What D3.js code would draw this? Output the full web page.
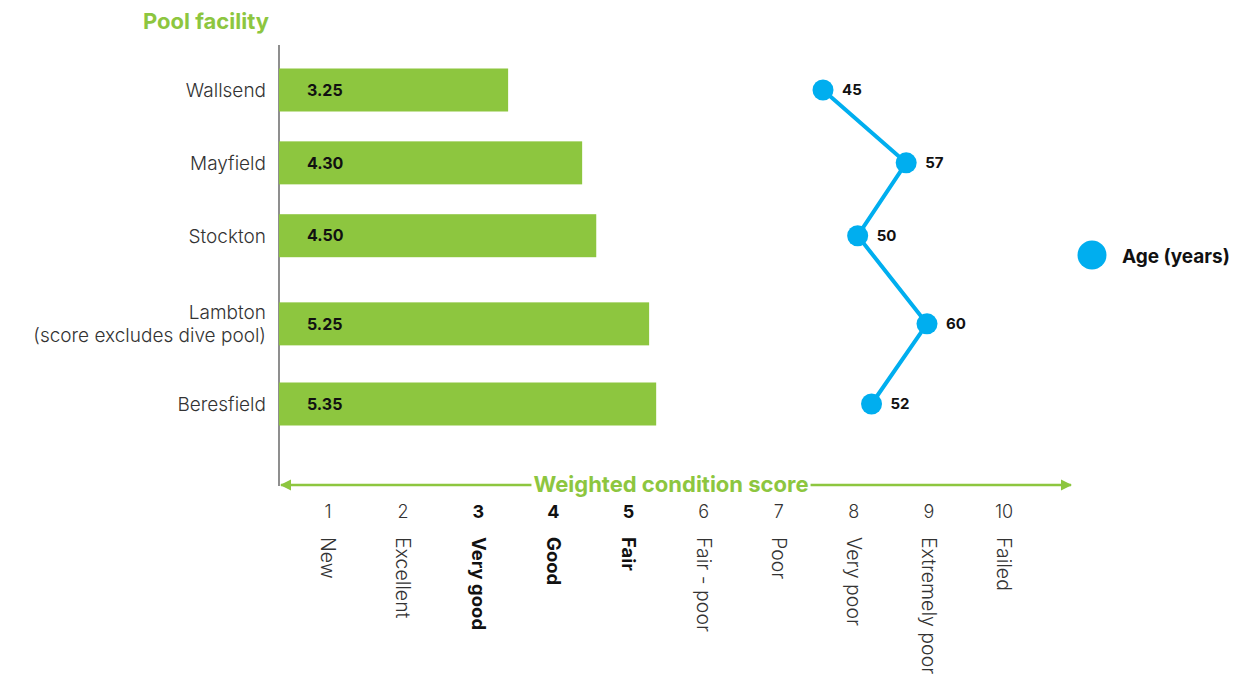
<!DOCTYPE html>
<html>
<head>
<meta charset="utf-8">
<script src="https://cdn.jsdelivr.net/npm/d3@7"></script>
<style>
  body { margin: 0; background: #fff; }
  text { font-family: "Inter", "Lato", sans-serif; }
</style>
</head>
<body>
<div id="chart"></div>
<script>
"use strict";

// pools, top to bottom
const pools = ["Wallsend", "Mayfield", "Stockton", "Lambton", "Beresfield"];
const poolLabels = [["Wallsend"], ["Mayfield"], ["Stockton"], ["Lambton", "(score excludes dive pool)"], ["Beresfield"]];
const scores = [3.25, 4.30, 4.50, 5.25, 5.35];
const ages = [45, 57, 50, 60, 52];

// condition scale along the bottom
const scoreTicks = [1, 2, 3, 4, 5, 6, 7, 8, 9, 10];
const scoreNames = ["New", "Excellent", "Very good", "Good", "Fair", "Fair - poor", "Poor", "Very poor", "Extremely poor", "Failed"];
const boldTicks = [3, 4, 5];

const width = 1258, height = 677;
const green = "#8dc63f", blue = "#00aeef";

const svg = d3.select("#chart").append("svg")
    .attr("width", width)
    .attr("height", height);

// rows get a little more room when their label wraps to two lines
const slots = [];
let acc = 0;
poolLabels.forEach((l, i) => {
    if (i > 0) acc += 1 + 0.1 * (poolLabels[i - 1].length - 1) + 0.21 * (l.length - 1);
    slots.push(acc);
});
const ySlot = d3.scaleLinear().domain([0, acc]).range([90, 404]);
const y = d => ySlot(slots[pools.indexOf(d)]);

const x = d3.scaleLinear().domain([0, 10]).range([279, 984]);
const xAge = d3.scaleLinear().domain([45, 60]).range([823, 927]);
const xTick = d3.scalePoint().domain(scoreTicks).range([328, 1004]);
const barH = 43;

// title
svg.append("text")
    .attr("x", 143).attr("y", 29)
    .attr("fill", green)
    .style("font-size", "22px").style("font-weight", 700)
    .text("Pool facility");

// vertical axis line
svg.append("line")
    .attr("x1", 279).attr("x2", 279)
    .attr("y1", 45).attr("y2", 486)
    .attr("stroke", "#444").attr("stroke-width", 1.2);

// bars
svg.append("g").selectAll("rect")
    .data(pools)
    .join("rect")
    .attr("x", x(0))
    .attr("y", d => y(d) - barH / 2)
    .attr("width", (d, i) => x(scores[i]) - x(0))
    .attr("height", barH)
    .attr("fill", green);

// bar values
svg.append("g").selectAll("text")
    .data(pools)
    .join("text")
    .attr("x", 280 + 27)
    .attr("y", d => y(d))
    .attr("dy", "0.36em")
    .style("font-size", "16px").style("font-weight", 700)
    .attr("fill", "#111")
    .text((d, i) => scores[i].toFixed(2));

// category labels
const cat = svg.append("g").selectAll("text")
    .data(pools)
    .join("text")
    .attr("text-anchor", "end")
    .attr("fill", "#333")
    .style("font-size", "19px").style("font-weight", 300);
cat.each(function (d, i) {
    const lines = poolLabels[i];
    const t = d3.select(this);
    lines.forEach((l, j) => {
        t.append("tspan")
            .attr("x", 266)
            .attr("y", y(d) + (j - (lines.length - 1) / 2) * 23)
            .attr("dy", "0.36em")
            .text(l);
    });
});

// age line + dots
const line = d3.line()
    .x((d, i) => xAge(ages[i]))
    .y(d => y(d));
svg.append("path")
    .datum(pools)
    .attr("d", line)
    .attr("fill", "none")
    .attr("stroke", blue)
    .attr("stroke-width", 4);
svg.append("g").selectAll("circle")
    .data(pools)
    .join("circle")
    .attr("cx", (d, i) => xAge(ages[i]))
    .attr("cy", d => y(d))
    .attr("r", 10.5)
    .attr("fill", blue);
svg.append("g").selectAll("text")
    .data(pools)
    .join("text")
    .attr("x", (d, i) => xAge(ages[i]) + 19)
    .attr("y", d => y(d))
    .attr("dy", "0.36em")
    .style("font-size", "15px").style("font-weight", 700)
    .attr("fill", "#111")
    .text((d, i) => ages[i]);

// legend
svg.append("circle").attr("cx", 1092).attr("cy", 255).attr("r", 14.5).attr("fill", blue);
svg.append("text")
    .attr("x", 1122).attr("y", 256).attr("dy", "0.36em")
    .style("font-size", "19px").style("font-weight", 700)
    .attr("fill", "#111")
    .text("Age (years)");

// score arrow
const defs = svg.append("defs");
defs.append("marker")
    .attr("id", "arr")
    .attr("viewBox", "0 0 10 10")
    .attr("refX", 9).attr("refY", 5)
    .attr("markerWidth", 4.5).attr("markerHeight", 5)
    .attr("markerUnits", "strokeWidth")
    .attr("orient", "auto-start-reverse")
    .append("path").attr("d", "M0,0L10,5L0,10Z").attr("fill", green);
svg.append("line")
    .attr("x1", 281).attr("x2", 1071)
    .attr("y1", 485).attr("y2", 485)
    .attr("stroke", green).attr("stroke-width", 2.5)
    .attr("marker-start", "url(#arr)")
    .attr("marker-end", "url(#arr)");
const axTitle = svg.append("text")
    .attr("x", 671).attr("y", 484).attr("dy", "0.36em")
    .attr("text-anchor", "middle")
    .attr("fill", green)
    .style("font-size", "22px").style("font-weight", 700)
    .text("Weighted condition score");
const bb = axTitle.node().getBBox();
svg.insert("rect", () => axTitle.node())
    .attr("x", bb.x - 2).attr("y", 476).attr("width", bb.width + 4).attr("height", 18)
    .attr("fill", "#fff");

// tick numbers and names
const ticks = svg.append("g").selectAll("g")
    .data(scoreTicks)
    .join("g")
    .attr("transform", d => `translate(${xTick(d)},0)`);
ticks.append("text")
    .attr("y", 512).attr("dy", "0.36em")
    .attr("text-anchor", "middle")
    .attr("fill", d => boldTicks.includes(d) ? "#111" : "#333")
    .style("font-size", "18px")
    .style("font-weight", d => boldTicks.includes(d) ? 700 : 300)
    .text(d => d);
ticks.append("text")
    .attr("transform", "translate(0,537) rotate(90)")
    .attr("dy", "0.36em")
    .attr("fill", d => boldTicks.includes(d) ? "#111" : "#333")
    .style("font-size", d => boldTicks.includes(d) ? "18.5px" : "19.5px")
    .style("font-weight", d => boldTicks.includes(d) ? 700 : 300)
    .text((d, i) => scoreNames[i]);
</script>
</body>
</html>
